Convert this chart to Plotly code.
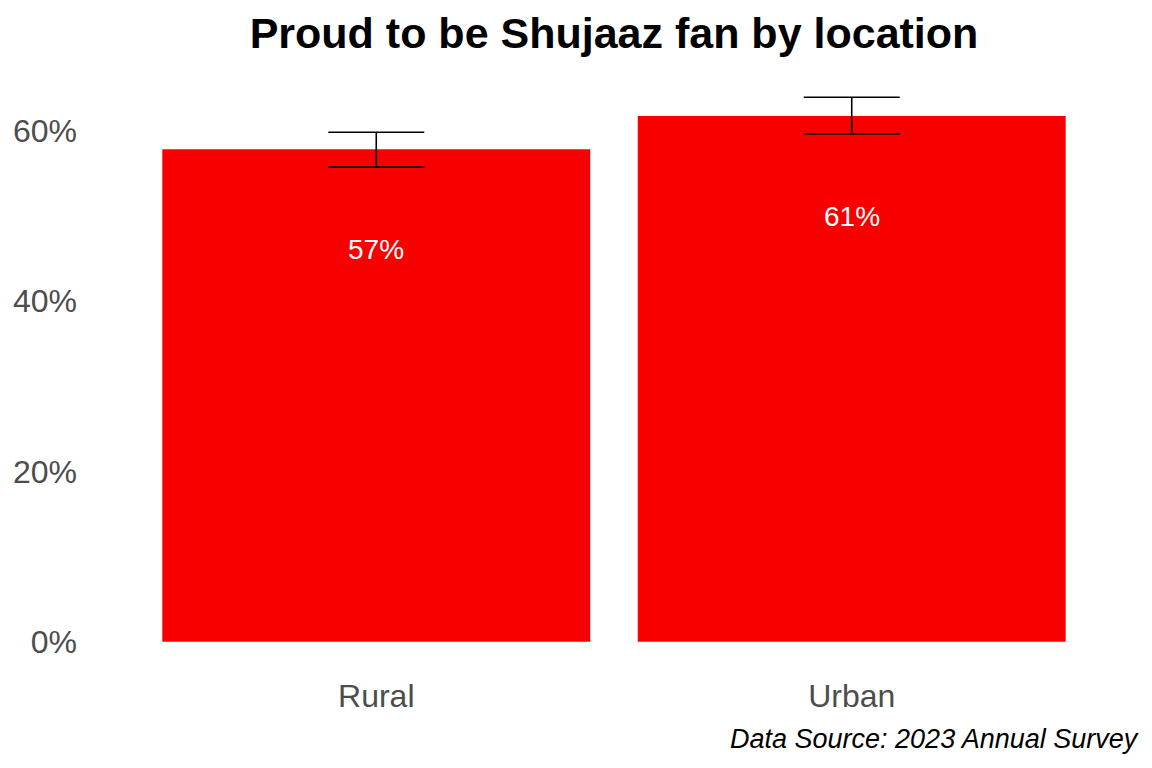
import plotly.graph_objects as go

categories = ["Rural", "Urban"]
values = [57.8, 61.7]
err_upper = [59.8, 63.9]
err_lower = [55.7, 59.6]
labels = ["57%", "61%"]
tick_vals = [0, 20, 40, 60]
tick_text = ["0%", "20%", "40%", "60%"]

FONT = "Liberation Sans, Arial, sans-serif"
RED = "#F90000"

fig = go.Figure()
fig.add_trace(go.Bar(
    x=[0, 1], y=values, width=0.9,
    marker=dict(color=RED, line=dict(width=0)),
    error_y=dict(type="data", symmetric=False,
                 array=[u - v for u, v in zip(err_upper, values)],
                 arrayminus=[v - l for v, l in zip(values, err_lower)],
                 color="black", thickness=1.6, width=48),
    hoverinfo="skip",
))

label_offset = 11.8
for i, (v, t) in enumerate(zip(values, labels)):
    fig.add_annotation(x=i, y=v - label_offset, text=t, showarrow=False,
                       font=dict(family=FONT, size=28, color="white"),
                       xref="x", yref="y")

fig.add_annotation(x=1, y=0, xref="paper", yref="paper", xanchor="right", yanchor="top",
                   yshift=-53, xshift=4, text="<i>Data Source: 2023 Annual Survey</i>",
                   showarrow=False,
                   font=dict(family=FONT, size=27, color="black"))

fig.update_layout(
    width=1152, height=768,
    paper_bgcolor="white", plot_bgcolor="white",
    margin=dict(l=91, r=15, t=70, b=99),
    showlegend=False,
    title=dict(text="<b>Proud to be Shujaaz fan by location</b>", x=0.533, xanchor="center",
               y=0.957, yanchor="middle",
               font=dict(family=FONT, size=43, color="black")),
    font=dict(family=FONT),
)
fig.update_xaxes(range=[-0.6, 1.6], tickvals=[0, 1], ticktext=categories,
                 showgrid=False, zeroline=False, showline=False, ticks="",
                 tickfont=dict(family=FONT, size=32, color="#4D4D4D"),
                 ticklabelstandoff=5)
fig.update_yaxes(range=[-3.2, 67.1], tickvals=tick_vals, ticktext=tick_text,
                 showgrid=False, zeroline=False, showline=False, ticks="",
                 tickfont=dict(family=FONT, size=32, color="#4D4D4D"),
                 ticklabelstandoff=13)

fig.write_html("out.html", config={"displayModeBar": False},
               post_script="document.body.style.margin='0px';")
